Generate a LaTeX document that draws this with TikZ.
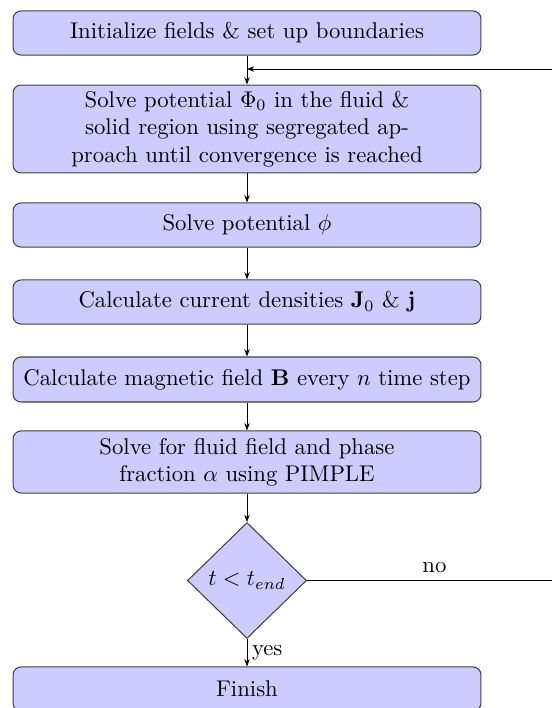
\documentclass[tikz,border=0pt]{standalone}
\usepackage{amsmath}
\usetikzlibrary{shapes.geometric,arrows.meta}
\begin{document}
\begin{tikzpicture}[x=0.44pt,y=-0.44pt,
  proc/.style={rectangle, rounded corners=3.5pt, draw=black!75, fill=blue!20,
    minimum width=205.9pt, align=center, inner sep=2pt, line width=0.45pt},
  dec/.style={diamond, draw=black!75, fill=blue!20, aspect=1, inner sep=0pt,
    minimum width=52.4pt, minimum height=51pt, line width=0.45pt},
  arr/.style={-{Stealth[length=3.2pt,width=2.4pt]}, line width=0.4pt},
  ln/.style={line width=0.4pt}]
\useasboundingbox (0,0) rectangle (552,708);
\node[proc, minimum height=19.4pt] (init) at (247,33) {Initialize fields \& set up boundaries};
\node[proc, minimum height=38.7pt] (phi0) at (247,129) {Solve potential $\Phi_0$ in the fluid \&\\ solid region using segregated ap-\\proach until convergence is reached};
\node[proc, minimum height=19.4pt] (phi) at (247,225) {Solve potential $\phi$};
\node[proc, minimum height=19.4pt] (cur) at (247,302) {Calculate current densities $\mathbf{J}_0$ \& $\mathbf{j}$};
\node[proc, minimum height=19.8pt] (mag) at (247,379.5) {Calculate magnetic field $\mathbf{B}$ every $n$ time step};
\node[proc, minimum height=27.3pt] (flu) at (247,462) {Solve for fluid field and phase\\ fraction $\alpha$ using PIMPLE};
\node[dec] (cond) at (247,580.5) {$t<t_{end}$};
\node[proc, minimum height=19.4pt] (fin) at (247,689) {Finish};
\coordinate (ret) at (552,69);
\coordinate (join) at (init.south |- ret);
\coordinate (noend) at (552,580.5);
\draw[arr] (init) -- (phi0);
\draw[arr] (ret) -- (join);
\draw[arr] (phi0) -- (phi);
\draw[arr] (phi) -- (cur);
\draw[arr] (cur) -- (mag);
\draw[arr] (mag) -- (flu);
\draw[arr] (flu) -- (cond);
\draw[arr] (cond) -- node[right, inner sep=2pt] {yes} (fin);
\draw[ln] (cond.east) -- node[above, pos=0.52, inner sep=3pt] {no} (noend);
\end{tikzpicture}
\end{document}
